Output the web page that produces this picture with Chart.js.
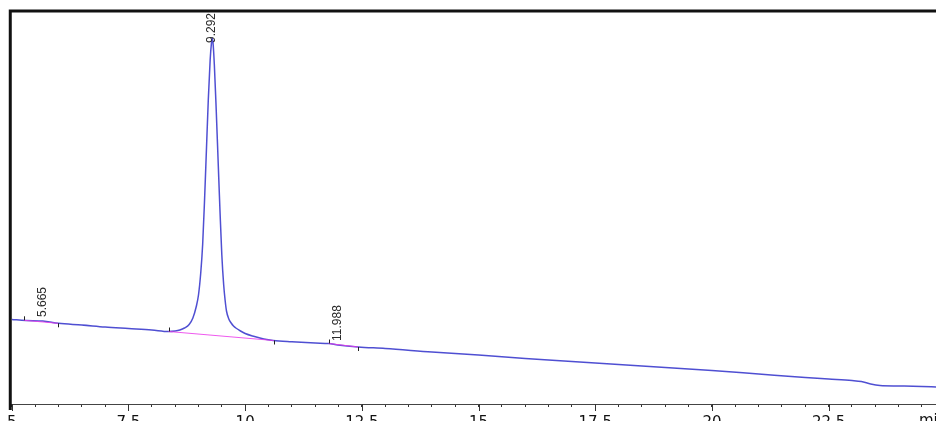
<!DOCTYPE html>
<html>
<head>
<meta charset="utf-8">
<script src="https://cdn.jsdelivr.net/npm/chart.js@4/dist/chart.umd.min.js"></script>
<style>
  html, body { margin: 0; padding: 0; background: #ffffff; }
  #wrap { width: 936px; height: 421px; overflow: hidden; }
</style>
</head>
<body>
<div id="wrap"><canvas id="chrom" width="936" height="421"></canvas></div>
<script>
// Detector trace: retention time (min) and signal (mAU)
const times = [
  5.0, 5.3, 5.665, 6.0, 6.5, 7.0, 7.5, 8.0, 8.36, 8.5, 8.6, 8.7, 8.8, 8.88, 8.95,
  9.0, 9.05, 9.09, 9.13, 9.17, 9.21, 9.25, 9.28, 9.292, 9.31, 9.34, 9.38, 9.42,
  9.46, 9.5, 9.54, 9.57, 9.6, 9.65, 9.7, 9.75, 9.8, 9.9, 10.0, 10.2, 10.4, 10.6, 11.0,
  11.5, 11.79, 11.988, 12.42, 13.0, 14.0, 15.0, 16.0, 17.0, 18.0, 19.0, 20.0,
  21.0, 22.0, 22.5, 23.0, 23.2, 23.4, 23.6, 24.0, 24.5, 24.8
];
const signal = [
  8.45, 8.35, 8.30, 8.07, 7.90, 7.70, 7.55, 7.40, 7.25, 7.30, 7.40, 7.60, 7.95, 8.60, 9.70,
  10.90, 13.20, 16.00, 20.40, 25.40, 30.40, 34.40, 36.20, 36.60, 36.20, 33.90, 29.40, 24.40,
  19.40, 14.90, 11.90, 10.40, 9.30, 8.50, 8.10, 7.80, 7.60, 7.30, 7.05, 6.75, 6.50, 6.35, 6.22,
  6.10, 6.05, 5.90, 5.70, 5.55, 5.20, 4.90, 4.55, 4.25, 3.95, 3.65, 3.35,
  3.00, 2.65, 2.50, 2.35, 2.25, 2.00, 1.85, 1.80, 1.75, 1.70
];

// Integrated peaks: retention times and baseline start / end points
const peakRT = [5.665, 9.292, 11.988];
const baseStartTime = [5.26, 8.36, 11.79];
const baseStartSignal = [8.37, 7.25, 6.05];
const baseEndTime = [5.99, 10.61, 12.42];
const baseEndSignal = [8.07, 6.35, 5.70];

// Time axis
const axisMin = 5;
const axisMax = 24.8;
const majorTicks = [5, 7.5, 10, 12.5, 15, 17.5, 20, 22.5];
const majorTickLabels = ['5', '7.5', '10', '12.5', '15', '17.5', '20', '22.5'];
const minorStep = 0.5;
const unitLabel = 'min';

const tracePoints = times.map((t, i) => ({ x: t, y: signal[i] }));
const baselineSets = peakRT.map((rt, i) => ({
  data: [
    { x: baseStartTime[i], y: baseStartSignal[i] },
    { x: baseEndTime[i], y: baseEndSignal[i] }
  ],
  borderColor: 'rgba(235, 60, 235, 0.85)',
  borderWidth: 1,
  pointRadius: 0,
  tension: 0,
  order: 0
}));

const minorValues = [];
for (let v = axisMin; v <= axisMax + 1e-9; v += minorStep) minorValues.push(Math.round(v * 10) / 10);

// Frame, long major ticks, unit label, peak markers and retention-time labels
const chromPlugin = {
  id: 'chromDecor',
  afterDatasetsDraw(chart, args, opts) {
    const { ctx, scales } = chart;
    const xs = scales.x, ys = scales.y;
    ctx.save();

    // integration markers (start ticks point up, end ticks point down)
    ctx.strokeStyle = '#222';
    ctx.lineWidth = 1;
    ctx.beginPath();
    baseStartTime.forEach((t, i) => {
      const px = Math.round(xs.getPixelForValue(t)) + 0.5;
      const py = ys.getPixelForValue(baseStartSignal[i]);
      ctx.moveTo(px, py); ctx.lineTo(px, py - opts.markLen);
    });
    baseEndTime.forEach((t, i) => {
      const px = Math.round(xs.getPixelForValue(t)) + 0.5;
      const py = ys.getPixelForValue(baseEndSignal[i]);
      ctx.moveTo(px, py); ctx.lineTo(px, py + opts.markLen);
    });
    ctx.stroke();

    // retention-time labels, written vertically
    ctx.fillStyle = '#2a2a2a';
    ctx.font = '12px "Liberation Sans", Arial, sans-serif';
    ctx.textAlign = 'left';
    ctx.textBaseline = 'middle';
    peakRT.forEach((rt, i) => {
      const idx = times.indexOf(rt);
      const px = xs.getPixelForValue(rt);
      const py = ys.getPixelForValue(signal[idx]) + opts.labelShift[i];
      ctx.save();
      ctx.translate(px, py);
      ctx.rotate(-Math.PI / 2);
      ctx.fillText(rt.toFixed(3), 0, 0);
      ctx.restore();
    });
    ctx.restore();
  },
  afterDraw(chart, args, opts) {
    const { ctx, chartArea, scales } = chart;
    const xs = scales.x;
    ctx.save();
    // longer ticks at the labelled times
    ctx.strokeStyle = '#333';
    ctx.lineWidth = 1;
    ctx.beginPath();
    majorTicks.forEach(v => {
      const px = Math.round(xs.getPixelForValue(v)) + 0.5;
      ctx.moveTo(px, chartArea.bottom);
      ctx.lineTo(px, chartArea.bottom + 7);
    });
    ctx.stroke();

    // unit label at the right end of the time axis
    ctx.fillStyle = '#111';
    ctx.font = '15px "DejaVu Sans", Verdana, sans-serif';
    ctx.textAlign = 'left';
    ctx.textBaseline = 'top';
    ctx.fillText(unitLabel, xs.getPixelForValue(24.5) - 3, chartArea.bottom + 10);

    // heavy frame on the top and left edges
    ctx.strokeStyle = '#111';
    ctx.lineWidth = 3;
    ctx.beginPath();
    ctx.moveTo(chartArea.left - 1.5, 11);
    ctx.lineTo(chart.width, 11);
    ctx.moveTo(chartArea.left - 1.5, 9.5);
    ctx.lineTo(chartArea.left - 1.5, chartArea.bottom + 6);
    ctx.stroke();
    ctx.restore();
  }
};

new Chart(document.getElementById('chrom'), {
  type: 'line',
  data: {
    datasets: [
      {
        data: tracePoints,
        borderColor: 'rgba(60, 60, 205, 0.9)',
        borderWidth: 1.5,
        pointRadius: 0,
        cubicInterpolationMode: 'monotone',
        order: 1
      },
      ...baselineSets
    ]
  },
  options: {
    responsive: false,
    animation: false,
    devicePixelRatio: 1,
    layout: { padding: { top: 12, left: 11, right: 0, bottom: 0 } },
    plugins: {
      legend: { display: false },
      tooltip: { enabled: false },
      chromDecor: { markLen: 4, labelShift: [-4, 5, -4] }
    },
    scales: {
      x: {
        type: 'linear',
        position: 'bottom',
        min: axisMin,
        max: axisMax,
        afterBuildTicks(scale) {
          scale.ticks = minorValues.map(v => ({ value: v }));
        },
        afterFit(scale) { scale.height = 17; },
        border: { display: true, color: '#444', width: 1 },
        grid: { display: true, drawOnChartArea: false, drawTicks: true, tickLength: 3, color: '#333', lineWidth: 1 },
        ticks: {
          autoSkip: false,
          maxRotation: 0,
          padding: 7,
          color: '#111',
          font: { family: '"DejaVu Sans", Verdana, sans-serif', size: 15 },
          callback(value) {
            const k = majorTicks.findIndex(m => Math.abs(m - value) < 1e-6);
            return k >= 0 ? majorTickLabels[k] : '';
          }
        }
      },
      y: {
        type: 'linear',
        display: false,
        min: 0,
        max: 39.2
      }
    }
  },
  plugins: [chromPlugin]
});
</script>
</body>
</html>
